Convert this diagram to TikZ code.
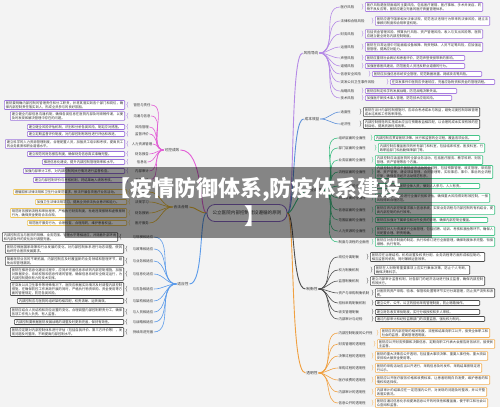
\documentclass[tikz,border=0pt]{standalone}
\usepackage{fontspec}
\newfontfamily\cjk{Noto Sans CJK SC}
\XeTeXlinebreaklocale "zh"
\XeTeXlinebreakskip=0pt plus 0.5pt
\definecolor{bgc}{HTML}{F3F3F3}
\definecolor{pinkc}{HTML}{E25ED6}
\definecolor{lavb}{HTML}{9A72DB}
\definecolor{yelc}{HTML}{E8B62C}
\definecolor{yelb}{HTML}{EDC55A}
\definecolor{bluc}{HTML}{5B9BEA}
\definecolor{darkb}{HTML}{4A4A4A}
\definecolor{purc}{HTML}{B58AE6}
\definecolor{purb}{HTML}{A77BE0}
\definecolor{stc}{HTML}{5B8FD9}
\definecolor{grn}{HTML}{3DBE82}
\definecolor{grnb}{HTML}{44C488}
\definecolor{drk}{HTML}{4D4D4D}
\definecolor{org}{HTML}{F0A040}
\definecolor{orgb}{HTML}{F3B055}
\definecolor{ctrb}{HTML}{8A66C4}
\definecolor{txt}{HTML}{333333}
\tikzset{
  bx/.style={draw, rounded corners=0.8pt, line width=0.6pt, fill=white, inner xsep=1.5pt, inner ysep=0.9pt,
    font=\cjk\fontsize{3.3}{4}\selectfont, align=justify, text=txt},
  lb/.style={font=\cjk\fontsize{3.4}{4}\selectfont, inner sep=0.4pt, text=txt},
  blb/.style={font=\cjk\fontsize{3.7}{4.2}\selectfont, inner sep=0.8pt, text=txt},
  br/.style={font=\fontsize{5.5}{5.5}\selectfont, inner sep=0pt},
  ln/.style={line width=0.6pt},
  mln/.style={line width=0.9pt}
}
\newcommand{\Lkid}[8]{%
  \pgfmathsetmacro\tw{#5-#4-3.6}
  \node[lb] (#1l) at (#3,#2) {#6};
  \node[bx,draw=\bc,text width=\tw pt,anchor=east] (#1b) at (#5,#2) {#7};
  \node[br,text=\bc] (#1c) at ({#5+2.3},#2) {\{};
  \draw[ln,draw=\lc] (#8) to[out=180,in=0] (#1l.east);
}
\newcommand{\Rkid}[8]{%
  \pgfmathsetmacro\tw{#5-#4-3.6}
  \node[lb,anchor=west] (#1l) at (#3,#2) {#6};
  \node[bx,draw=\bc,text width=\tw pt,anchor=west] (#1b) at (#4,#2) {#7};
  \node[br,text=\bc] (#1c) at ({#4-2.3},#2) {\}};
  \draw[ln,draw=\lc] (#8) to[out=0,in=180] (#1l.west);
}
\begin{document}
\begin{tikzpicture}[x=1pt,y=-1pt]
\useasboundingbox (0,0) rectangle (500,407);
\fill[bgc] (0,0) rectangle (500,407);

% center
\node[draw=ctrb, line width=0.8pt, rounded corners=8pt, fill=white, minimum width=80pt, minimum height=17pt,
  font=\cjk\fontsize{4.6}{5}\selectfont, text=txt, inner sep=1pt] (ctr) at (247,213) {公立医院内部控制建设遵循的原则};

% branch labels
\node[blb] (pk) at (172,150) {可控成效};
\node[blb] (yl) at (181,207) {合法合规};
\node[blb] (bl) at (183,284) {适应性};
\node[blb] (rp) at (311,53) {风险导向};
\node[blb] (rc) at (312,119) {成本效益};
\node[blb] (rg) at (316,190) {全面性};
\node[blb] (rd) at (312,289) {制衡性};
\node[blb] (ro) at (312,373) {透明性};

% main lines
\draw[mln,pinkc] (ctr.west) .. controls (199,213) and (204,150) .. (pk.east);
\draw[mln,yelc] (ctr.west) .. controls (199,213) and (196,207) .. (yl.east);
\draw[mln,bluc] (ctr.west) .. controls (199,213) and (204,284) .. (bl.east);
\draw[mln,purc] (ctr.east) .. controls (295,213) and (290,53) .. (rp.west);
\draw[mln,stc] (ctr.east) .. controls (295,213) and (292,119) .. (rc.west);
\draw[mln,grn] (ctr.east) .. controls (294,213) and (297,190) .. (rg.west);
\draw[mln,drk] (ctr.east) .. controls (295,213) and (292,289) .. (rd.west);
\draw[mln,org] (ctr.east) .. controls (295,213) and (290,373) .. (ro.west);

% ---------- left pink ----------
\def\bc{lavb}\def\lc{pinkc}
\Lkid{p1}{105}{142}{4}{125}{管控与责任}{医院要明确内部控制的管理责任和分工职责，并将其落实到各个部门和岗位，确保内部控制责任落实到人，形成全员参与的良好氛围。}{pk.west}
\Lkid{p2}{116}{142}{10}{125}{沟通与信息}{建立健全内部信息沟通机制，确保各类信息在医院内部及时顺畅传递，以便及时发现和解决管理中存在的问题。}{pk.west}
\Lkid{p3}{127}{142}{27}{125}{风险管理}{建立健全风险评估机制，识别和分析各类风险，制定应对措施。}{pk.west}
\Lkid{p4}{134}{142}{27}{125}{监督评价}{建立定期监督评价制度，对内部控制有效性进行评估和改进。}{pk.west}
\Lkid{p5}{144}{142}{5}{125}{人力资源管理}{建立科学的人力资源管理制度，合理配置人员，加强员工培训和考核，提高员工的业务素质和职业道德水平。}{pk.west}
\Lkid{p6}{154}{142}{27}{125}{财务报告}{建立规范的财务报告制度，确保财务信息真实准确完整。}{pk.west}
\Lkid{p7}{162}{142}{42}{125}{信息化}{推进信息化建设，提升内部控制管理效率和水平。}{pk.west}
\Lkid{p8}{171}{142}{23}{125}{内部审计}{加强内部审计工作，对内部控制的执行情况进行监督检查。}{pk.west}
\Lkid{p9}{180}{142}{33}{125}{考核评价}{建立内部控制评价与考核机制，将结果纳入绩效考核。}{pk.west}

% ---------- left yellow ----------
\def\bc{yelb}\def\lc{yelc}
\Lkid{y1}{192}{142}{13}{127}{依法执业}{遵循国家法律法规和卫生行业规范要求，依法开展各项医疗业务活动。}{yl.west}
\Lkid{y2}{202}{142}{35}{127}{法规学习}{加强卫生法律法规学习，提高全员依法执业意识和能力。}{yl.west}
\Lkid{y3}{213}{142}{10}{127}{财务报销}{规范财务报销流程和审批程序，严格执行财务制度，杜绝违规报销和虚假报销行为，确保资金使用合法合规。}{yl.west}
\Lkid{y4}{223}{142}{27}{127}{医疗服务}{规范医疗服务行为，合理检查、合理用药，维护患者权益。}{yl.west}

% ---------- left blue ----------
\def\bc{darkb}\def\lc{bluc}
\Lkid{b1}{237}{143}{2}{118}{与规模相适应}{内部控制应当与医院的规模、业务范围、管理水平等相适应，并随着外部环境和内部条件的变化及时调整完善。}{bl.west}
\Lkid{b2}{249}{143}{5}{124}{与政策相适应}{医院应根据国家政策和行业发展的变化，对内部控制体系进行动态调整，使其始终符合医院发展要求。}{bl.west}
\Lkid{b3}{261}{143}{5}{124}{与业务相适应}{随着医院业务的不断拓展，内部控制应及时覆盖新的业务领域和管理环节，避免出现管理漏洞。}{bl.west}
\Lkid{b4}{274}{143}{10}{124}{与信息化适应}{医院在推进信息化建设过程中，应同步完善信息系统的内部控制措施，加强对数据安全、系统权限和信息传递的管理，确保信息系统安全稳定运行，为内部控制提供有力的技术支撑。}{bl.west}
\Lkid{b5}{289}{143}{10}{124}{与应急相适应}{在突发公共卫生事件等特殊情况下，医院应根据实际情况及时调整内部控制措施，在确保防控工作高效开展的同时，严格执行物资采购、资金使用等方面的管理规定，防范各类风险。}{bl.west}
\Lkid{b6}{301}{143}{17}{124}{与架构相适应}{内部控制应与医院的组织架构相匹配，权责清晰、运转高效。}{bl.west}
\Lkid{b7}{312}{143}{10}{124}{与人员相适应}{医院应结合人员结构和岗位设置的变化，合理调整内部控制职责分工，确保各项工作有人负责、有人监督。}{bl.west}
\Lkid{b8}{322}{143}{14}{124}{与战略相适应}{内部控制要根据医院发展战略的调整及时更新完善，保持有效性。}{bl.west}
\Lkid{b9}{332}{143}{10}{124}{持续改进完善}{医院应定期对内部控制体系进行评估（包括自我评价、第三方评价等），发现问题及时整改，不断提高内部控制水平。}{bl.west}

% ---------- right purple ----------
\def\bc{purb}\def\lc{purc}
\Rkid{r1}{7}{340}{365}{483}{医疗风险}{医疗风险是医院面临的主要风险，包括医疗差错、医疗事故、手术并发症、药物不良反应等，医院应建立完善的医疗质量管理体系。}{rp.east}
\Rkid{r2}{21}{340}{375}{490}{法律和合规风险}{医院应遵守国家相关法律法规，防范违法违规行为带来的法律风险，建立法律顾问制度和合规审查机制。}{rp.east}
\Rkid{r3}{34}{340}{365}{483}{财务风险}{包括资金管理风险、预算执行风险、资产管理风险、收入与支出风险等，医院应建立健全财务内部控制制度。}{rp.east}
\Rkid{r4}{47}{340}{365}{483}{运营风险}{医院在日常运营中可能面临设备故障、物资短缺、人员不足等风险，应加强运营管理，提高应对能力。}{rp.east}
\Rkid{r5}{58}{340}{365}{465}{声誉风险}{医院应重视社会舆论和患者评价，防范声誉受损带来的影响。}{rp.east}
\Rkid{r6}{66}{340}{365}{465}{道德风险}{加强医德医风建设，防范医务人员违反职业道德的行为。}{rp.east}
\Rkid{r7}{74}{340}{372}{482}{信息安全风险}{医院应加强信息系统安全管理，防范数据泄露、网络攻击等风险。}{rp.east}
\Rkid{r8}{82}{340}{390}{495}{突发公共卫生事件风险}{在突发事件中医院应快速响应，完善应急物资和资金的管理流程。}{rp.east}
\Rkid{r9}{91}{340}{365}{457}{战略风险}{医院应制定科学的发展战略，防范战略决策失误。}{rp.east}
\Rkid{r10}{98}{340}{365}{452}{技术风险}{加强医疗新技术准入管理，防范技术应用风险。}{rp.east}

% ---------- right cost ----------
\def\bc{darkb}\def\lc{stc}
\Rkid{c1}{112}{340}{363}{480}{适度性}{医院在设计内部控制措施时，应综合考虑成本与效益，避免过度控制导致管理成本过高和工作效率降低。}{rc.east}
\Rkid{c2}{124}{340}{363}{480}{经济性}{内部控制措施的实施成本应当与预期收益相匹配，以合理的成本实现有效的控制目标，提高资源利用效率。}{rc.east}

% ---------- right green ----------
\def\bc{grnb}\def\lc{grn}
\Rkid{g1}{138}{338}{374}{480}{组织层面的全面性}{内部控制应贯穿医院决策、执行和监督的全过程，覆盖各项业务。}{rg.east}
\Rkid{g2}{148}{338}{378}{485}{部门层面的全面性}{内部控制应覆盖医院的所有部门和科室，包括临床科室、医技科室、行政职能部门和后勤保障部门等。}{rg.east}
\Rkid{g3}{160}{338}{375}{483}{业务层面的全面性}{内部控制应涵盖医院的全部业务活动，包括医疗服务、教学科研、财务管理、资产管理等各个方面。}{rg.east}
\Rkid{g4}{172}{338}{375}{493}{流程层面的全面性}{内部控制应贯穿于医院经济活动的全过程，包括预算管理、收支管理、采购管理、资产管理、建设项目管理、合同管理等，实现事前、事中、事后的全流程控制，确保各项经济活动规范有序。}{rg.east}
\Rkid{g5}{186}{338}{375}{480}{人员层面的全面性}{内部控制应覆盖医院全体人员，做到人人参与、人人有责。}{rg.east}
\Rkid{g6}{198}{338}{375}{490}{风险层面的全面性}{医院应对各类风险进行全面识别和评估，确保重大风险得到有效控制，一般风险得到合理防范。}{rg.east}
\Rkid{g7}{210}{338}{375}{495}{信息层面的全面性}{医院应将内部控制要求嵌入信息系统，实现业务流程与内部控制的有机结合，提高内部控制的执行效率。}{rg.east}
\Rkid{g8}{220}{338}{375}{488}{范围层面的全面性}{医院应加强对下属单位和对外投资的管理，确保内部控制全覆盖。}{rg.east}
\Rkid{g9}{231}{338}{375}{495}{人力资源的全面性}{医院应对人力资源进行全面管理，包括招聘、培训、考核和激励等环节，确保人员配置合理、职责明确。}{rg.east}
\Rkid{g10}{242}{338}{375}{495}{制度与流程的全面性}{医院应对各项制度的制定、执行和修订进行全面管理，确保制度体系完整、衔接顺畅、执行有效。}{rg.east}

% ---------- right dark ----------
\def\bc{darkb}\def\lc{drk}
\Rkid{d1}{257}{338}{370}{485}{岗位分离制衡}{医院应在治理结构、机构设置及权责分配、业务流程等方面形成相互制约、相互监督的机制，同时兼顾运营效率。}{rd.east}
\Rkid{d2}{270}{338}{374}{470}{权力制衡机制}{医院在人财物等重要事项上应实行集体决策，防止个人专断，确保决策科学。}{rd.east}
\Rkid{d3}{281}{338}{370}{485}{监督制衡机制}{建立内部审计监督机制，对各部门的经济活动进行独立监督，确保内部控制有效执行。}{rd.east}
\Rkid{d4}{293}{338}{375}{495}{资产与采购制衡机制}{对医院的资产采购、验收、保管和处置等环节实行分离管理，防止资产流失和浪费。}{rd.east}
\Rkid{d5}{303}{338}{375}{480}{招标采购制衡机制}{建立公开、公平、公正的招标采购管理制度，防止暗箱操作。}{rd.east}
\Rkid{d6}{312}{338}{375}{480}{收支管理制衡}{建立财务收支审批制度，实行分级授权和多人审核。}{rd.east}
\Rkid{d7}{319}{338}{375}{485}{内部审计与纪检}{通过内部审计和纪检监察部门的双重监督，强化权力制约。}{rd.east}

% ---------- right orange ----------
\def\bc{orgb}\def\lc{org}
\Rkid{o1}{333}{338}{380}{490}{内部控制制度的公开性}{医院应将内部控制的相关制度、流程和结果向职工公开，接受全体职工和社会的监督，提高管理透明度。}{ro.east}
\Rkid{o2}{344}{338}{377}{495}{财务管理的透明性}{医院应公开财务预算和决算信息，定期向职工代表大会报告财务状况，接受民主监督。}{ro.east}
\Rkid{o3}{356}{338}{375}{488}{决策过程的透明性}{医院的重大决策应公开透明，包括重大事项决策、重要人事任免、重大项目安排和大额资金使用等。}{ro.east}
\Rkid{o4}{368}{338}{375}{482}{采购过程的透明性}{医院的采购活动应当公开进行，采购信息及时发布，采购结果按规定进行公示。}{ro.east}
\Rkid{o5}{380}{338}{375}{490}{医疗收费的透明性}{医院应公开医疗服务价格和收费标准，让患者明明白白消费，维护患者的知情权和选择权。}{ro.east}
\Rkid{o6}{392}{338}{375}{487}{内部审计的透明性}{内部审计的结果应在一定范围内公开，对发现的问题及时整改，并公开整改落实情况。}{ro.east}
\Rkid{o7}{403}{338}{375}{488}{信息公开的透明性}{医院应通过信息化手段提高信息公开的时效性和覆盖面，便于职工和社会公众查阅和监督。}{ro.east}

% ---------- overlay band ----------
\fill[black,opacity=0.45] (65,167) rectangle (432,238);
\node[font=\cjk\bfseries\fontsize{22}{28}\selectfont, text=white, align=center, inner sep=0pt] (title) at (255,202) {【疫情防御体系,防疫体系建设\\】};
\end{tikzpicture}
\end{document}
